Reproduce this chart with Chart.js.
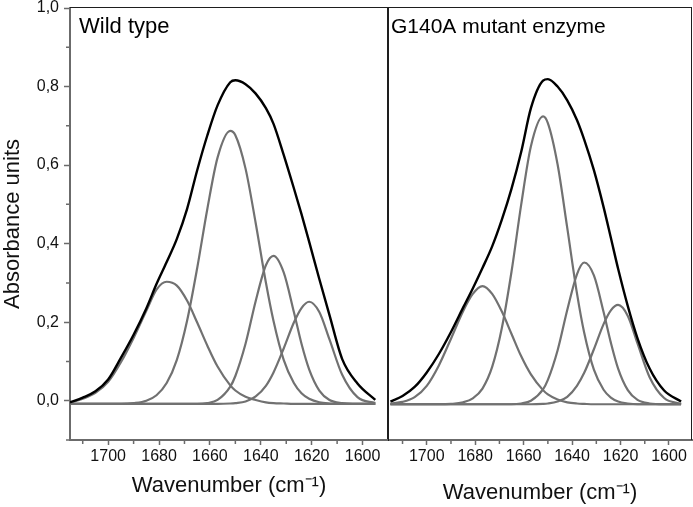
<!DOCTYPE html>
<html>
<head>
<meta charset="utf-8">
<script src="https://cdn.jsdelivr.net/npm/chart.js@4.4.0/dist/chart.umd.min.js"></script>
<style>
  html, body { margin: 0; padding: 0; background: #fff; }
  #wrap { position: relative; width: 693px; height: 507px; }
  #wtChart { position: absolute; left: 0; top: 0; }
  #muChart { position: absolute; left: 380px; top: 0; }
</style>
</head>
<body>
<div id="wrap">
  <canvas id="wtChart" width="390" height="507"></canvas>
  <canvas id="muChart" width="313" height="507"></canvas>
</div>
<script>
// wavenumber grid (cm-1), shared by every curve; denser where the bands peak
const wavenumbers = [1715, 1710, 1705, 1700, 1695, 1690, 1685, 1681, 1677, 1673, 1669, 1665, 1661, 1657,
  1652, 1650, 1646, 1642, 1638, 1635, 1631, 1627, 1624, 1621, 1617, 1613, 1608, 1602, 1595];

// Wild type: measured envelope + 4 fitted bands
const wtSum = [-0.004, 0.008, 0.024, 0.054, 0.109, 0.168, 0.235, 0.297, 0.353, 0.412, 0.488, 0.587, 0.676, 0.752,
  0.811, 0.816, 0.806, 0.782, 0.745, 0.705, 0.626, 0.541, 0.475, 0.405, 0.310, 0.218, 0.106, 0.044, 0.002];
const wtBand1 = [-0.005, 0.005, 0.020, 0.048, 0.098, 0.160, 0.229, 0.283, 0.303, 0.293, 0.255, 0.199, 0.140, 0.087,
  0.039, 0.026, 0.010, 0.002, -0.004, -0.006, -0.007, -0.008, -0.008, -0.008, -0.008, -0.008, -0.008, -0.008, -0.008];
const wtBand2 = [-0.008, -0.008, -0.008, -0.008, -0.008, -0.006, 0.000, 0.014, 0.045, 0.104, 0.203, 0.338, 0.489, 0.619,
  0.687, 0.676, 0.591, 0.452, 0.301, 0.203, 0.104, 0.045, 0.019, 0.005, -0.004, -0.007, -0.008, -0.008, -0.008];
const wtBand3 = [-0.008, -0.008, -0.008, -0.008, -0.008, -0.008, -0.008, -0.008, -0.008, -0.008, -0.008, -0.008, -0.006, 0.002,
  0.036, 0.063, 0.145, 0.254, 0.345, 0.369, 0.327, 0.226, 0.145, 0.080, 0.026, 0.002, -0.006, -0.008, -0.008];
const wtBand4 = [-0.008, -0.008, -0.008, -0.008, -0.008, -0.008, -0.008, -0.008, -0.008, -0.008, -0.008, -0.008, -0.008, -0.008,
  -0.007, -0.006, -0.002, 0.011, 0.038, 0.072, 0.133, 0.199, 0.236, 0.252, 0.226, 0.156, 0.066, 0.009, -0.006];

// G140A mutant enzyme
const muSum = [-0.002, 0.012, 0.035, 0.072, 0.119, 0.175, 0.237, 0.286, 0.338, 0.393, 0.461, 0.540, 0.634, 0.745,
  0.815, 0.819, 0.800, 0.765, 0.715, 0.665, 0.587, 0.493, 0.415, 0.336, 0.241, 0.159, 0.082, 0.026, -0.002];
const muBand1 = [-0.007, -0.003, 0.009, 0.038, 0.090, 0.158, 0.228, 0.272, 0.292, 0.272, 0.227, 0.170, 0.113, 0.067,
  0.027, 0.016, 0.003, -0.004, -0.007, -0.008, -0.009, -0.009, -0.009, -0.009, -0.009, -0.009, -0.009, -0.009, -0.009];
const muBand2 = [-0.009, -0.009, -0.009, -0.009, -0.009, -0.008, -0.004, 0.006, 0.031, 0.086, 0.185, 0.329, 0.500, 0.648,
  0.724, 0.707, 0.602, 0.440, 0.274, 0.173, 0.079, 0.028, 0.008, -0.002, -0.007, -0.009, -0.009, -0.009, -0.009];
const muBand3 = [-0.009, -0.009, -0.009, -0.009, -0.009, -0.009, -0.009, -0.009, -0.009, -0.009, -0.009, -0.009, -0.007, 0.000,
  0.029, 0.053, 0.128, 0.231, 0.322, 0.352, 0.319, 0.226, 0.148, 0.082, 0.027, 0.002, -0.007, -0.009, -0.009];
const muBand4 = [-0.009, -0.009, -0.009, -0.009, -0.009, -0.009, -0.009, -0.009, -0.009, -0.009, -0.009, -0.009, -0.009, -0.009,
  -0.008, -0.007, -0.002, 0.010, 0.038, 0.071, 0.131, 0.195, 0.230, 0.244, 0.216, 0.146, 0.060, 0.007, -0.008];

// minor tick positions
const yMinor = [-0.1, 0.1, 0.3, 0.5, 0.7, 0.9];
const xMinor = [1710, 1690, 1670, 1650, 1630, 1610];

const AXIS = "#6b6b6b";
const FRAME = "#1e1e1e";
const BAND = "#717171";
const FONT = "'Liberation Sans', Arial, sans-serif";

const pts = (ys) => wavenumbers.map((x, i) => ({ x, y: ys[i] }));

// frame lines, minor ticks and the panel caption
const panelDecor = {
  id: "panelDecor",
  afterDraw(chart, args, opts) {
    const { ctx, chartArea: a, scales } = chart;
    ctx.save();
    ctx.strokeStyle = FRAME;
    ctx.lineWidth = 1;
    ctx.beginPath();
    ctx.moveTo(a.left, a.top - 0.5);
    ctx.lineTo(a.right, a.top - 0.5);
    ctx.moveTo(a.right - 0.5, a.top - 1);
    ctx.lineTo(a.right - 0.5, a.bottom);
    ctx.stroke();

    ctx.strokeStyle = AXIS;
    ctx.lineWidth = 1.5;
    ctx.beginPath();
    if (opts.yMinor) {
      yMinor.forEach(v => {
        const py = scales.y.getPixelForValue(v);
        ctx.moveTo(a.left - 4, py);
        ctx.lineTo(a.left - 1, py);
      });
    }
    xMinor.forEach(v => {
      const px = scales.x.getPixelForValue(v);
      ctx.moveTo(px, a.bottom + 1);
      ctx.lineTo(px, a.bottom + 4);
    });
    ctx.stroke();

    ctx.fillStyle = "#000";
    ctx.font = `${opts.size}px ${FONT}`;
    ctx.textBaseline = "alphabetic";
    ctx.textAlign = "left";
    ctx.fillText(opts.caption, a.left + opts.dx, a.top + 25);
    ctx.restore();
  }
};

function makeData(sum, bands) {
  return {
    datasets: [
      { data: pts(sum), borderColor: "#000", borderWidth: 2.4 },
      ...bands.map(b => ({ data: pts(b), borderColor: BAND, borderWidth: 2.2 }))
    ]
  };
}

function xAxis(min, max, titlePad) {
  return {
    type: "linear",
    reverse: true,
    min, max,
    ticks: {
      stepSize: 20, includeBounds: false, padding: 4, color: "#111",
      font: { family: FONT, size: 16, lineHeight: 1 },
      callback: (v) => String(v)
    },
    grid: { drawOnChartArea: false, tickLength: 5, tickColor: AXIS, tickWidth: 1.5 },
    border: { color: AXIS, width: 2 },
    title: {
      display: true, text: "Wavenumber (cm\u207B\u00B9)", color: "#111",
      font: { family: FONT, size: 22, lineHeight: 1.2 },
      padding: { top: 0, bottom: titlePad }
    },
    afterFit: (s) => { s.height = 67; }
  };
}

const baseOpts = {
  responsive: false,
  animation: false,
  devicePixelRatio: 1,
  elements: { point: { radius: 0 }, line: { cubicInterpolationMode: "monotone", fill: false } }
};

new Chart(document.getElementById("wtChart"), {
  type: "line",
  data: makeData(wtSum, [wtBand1, wtBand2, wtBand3, wtBand4]),
  plugins: [panelDecor],
  options: {
    ...baseOpts,
    layout: { padding: { top: 8, right: 2, left: 0, bottom: 0 } },
    plugins: {
      legend: { display: false },
      tooltip: { enabled: false },
      panelDecor: { caption: "Wild type", dx: 9, size: 22, yMinor: true }
    },
    scales: {
      x: xAxis(1590, 1715, 8),
      y: {
        min: -0.1, max: 1.0,
        ticks: {
          stepSize: 0.2, includeBounds: false, padding: 5, color: "#111",
          font: { family: FONT, size: 16, lineHeight: 1 },
          callback: (v) => v.toFixed(1).replace(".", ",")
        },
        grid: { drawOnChartArea: false, tickLength: 6, tickColor: AXIS, tickWidth: 1.5 },
        border: { color: AXIS, width: 2 },
        title: {
          display: true, text: "Absorbance units", color: "#111",
          font: { family: FONT, size: 22, lineHeight: 1.2 },
          padding: { top: 0, bottom: 0 }
        },
        afterFit: (s) => { s.width = 70; s.paddingTop = 0; s.paddingBottom = 0; }
      }
    }
  }
});

new Chart(document.getElementById("muChart"), {
  type: "line",
  data: makeData(muSum, [muBand1, muBand2, muBand3, muBand4]),
  plugins: [panelDecor],
  options: {
    ...baseOpts,
    layout: { padding: { top: 8, right: 1, left: 0, bottom: 0 } },
    plugins: {
      legend: { display: false },
      tooltip: { enabled: false },
      panelDecor: { caption: "G140A mutant enzyme", dx: 3, size: 21, yMinor: false }
    },
    scales: {
      x: xAxis(1590.5, 1716, 1),
      y: {
        min: -0.1, max: 1.0,
        ticks: { display: false },
        grid: { display: false, drawTicks: false },
        border: { color: FRAME, width: 1 },
        afterFit: (s) => { s.width = 8; }
      }
    }
  }
});
</script>
</body>
</html>
